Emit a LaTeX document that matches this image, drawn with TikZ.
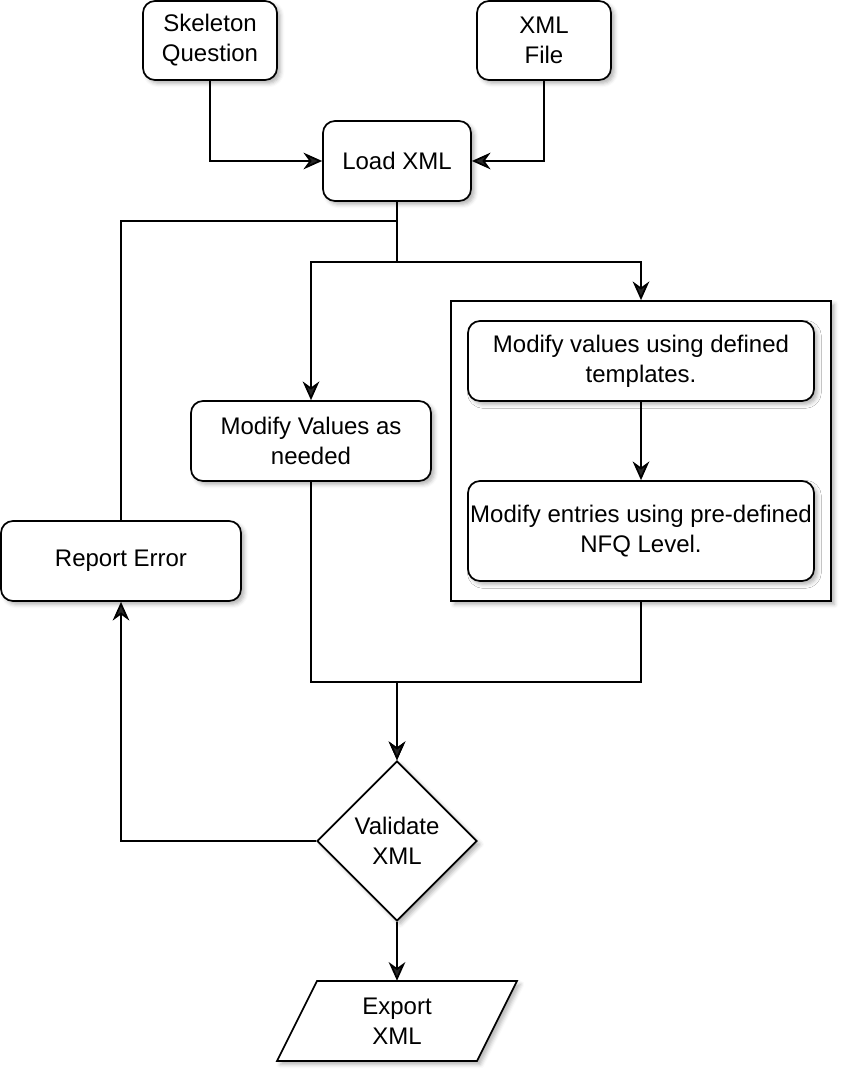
\documentclass[tikz,border=0pt]{standalone}
\usepackage{fontspec}
\setmainfont{Liberation Sans}
\usetikzlibrary{arrows.meta,shapes.geometric,shadows.blur,calc}
\begin{document}
\begin{tikzpicture}[x=0.75pt,y=-0.75pt,
  font=\fontsize{18}{22.5}\selectfont,
  shd/.style={blur shadow={shadow xshift=2.5pt,shadow yshift=-2.5pt,shadow blur radius=3pt,shadow opacity=30}},
  rbox/.style={draw,line width=1.3pt,rounded corners=9pt,fill=white,align=center,inner sep=0pt,shd},
  plainbox/.style={draw,line width=1.3pt,fill=white,inner sep=0pt,shd},
  dia/.style={draw,line width=1.3pt,diamond,aspect=1,fill=white,align=center,inner sep=0pt,shd,minimum width=160*0.75pt,minimum height=160*0.75pt},
  ln/.style={line width=1.3pt},
  arr/.style={line width=1.3pt,-{Stealth[length=14pt,width=12.5pt,inset=4.5pt]}}
]
\useasboundingbox (0,0) rectangle (854,1084);

% container
\node[plainbox,minimum width=380*0.75pt,minimum height=300*0.75pt] (cont) at (641,451) {};

\node[rbox,minimum width=134*0.75pt,minimum height=79*0.75pt] (skel) at (210,40.5) {Skeleton\\Question};
\node[rbox,minimum width=134*0.75pt,minimum height=79*0.75pt] (xmlf) at (544,40.5) {XML\\File};
\node[rbox,minimum width=148*0.75pt,minimum height=80*0.75pt] (load) at (397,161) {Load XML};
\node[rbox,minimum width=240*0.75pt,minimum height=80*0.75pt] (mod) at (311,441) {Modify Values as\\needed};
\node[rbox,minimum width=346*0.75pt,minimum height=80*0.75pt] (t1) at (641,361) {Modify values using defined\\templates.};
\node[rbox,minimum width=346*0.75pt,minimum height=100*0.75pt] (t2) at (641,531) {Modify entries using pre-defined\\NFQ Level.};
\node[rbox,minimum width=240*0.75pt,minimum height=80*0.75pt] (rep) at (121,561) {Report Error};
\node[dia] (val) at (397,841) {Validate\\XML};

% export parallelogram
\draw[ln,fill=white,shd,line join=miter] (317,981) -- (517,981) -- (477,1061) -- (277,1061) -- cycle;
\node[align=center,inner sep=0pt,minimum width=200*0.75pt,minimum height=80*0.75pt] (exp) at (397,1021) {Export\\XML};

% connectors
\draw[arr] (skel.south) |- (load.west);
\draw[arr] (xmlf.south) |- (load.east);
\coordinate (jr) at (397,221);
\draw[ln] (rep.north) |- (jr) -- (load.south);
\draw[arr] (load.south) -- ++(0,60) -| (mod.north);
\draw[arr] (load.south) -- ++(0,60) -| (cont.north);
\draw[arr] (t1.south) -- (t2.north);
\draw[arr] (mod.south) -- ++(0,200) -| (val.north);
\draw[arr] (cont.south) -- ++(0,80) -| (val.north);
\draw[arr] (val.west) -| (rep.south);
\draw[arr] (val.south) -- (exp.north);
\end{tikzpicture}
\end{document}
